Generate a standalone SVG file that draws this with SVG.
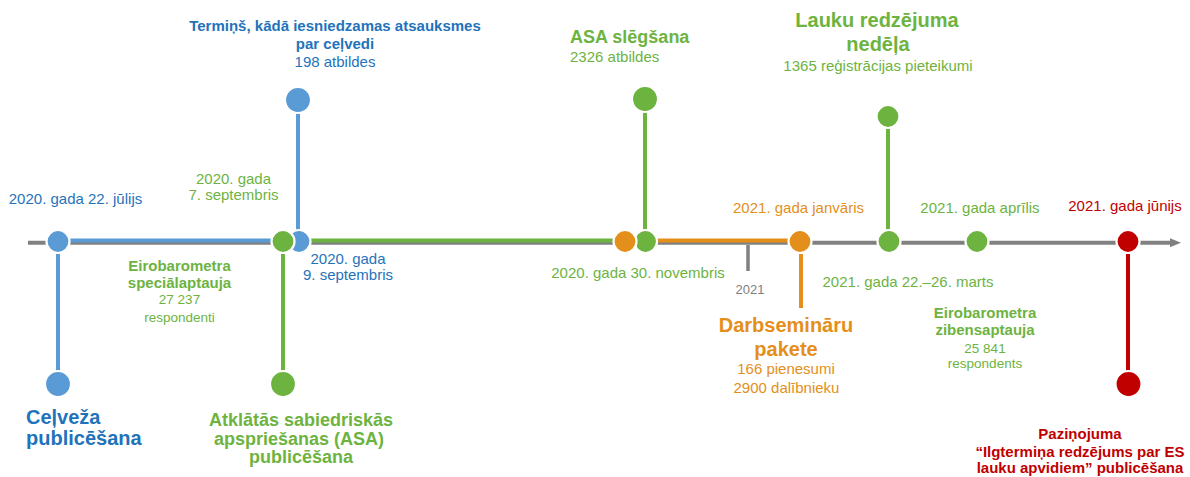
<svg xmlns="http://www.w3.org/2000/svg" width="1190" height="477" viewBox="0 0 1190 477">
<style>
text{font-family:"Liberation Sans",Arial,sans-serif;}
.d{font-size:15px;}
.b15{font-size:15px;font-weight:bold;}
.b18{font-size:18px;font-weight:bold;}
.b20{font-size:20px;font-weight:bold;}
.s{font-size:13.5px;}
.c{text-anchor:middle;}
.tb{fill:#1f73bb;}
.tg{fill:#6db33f;}
.to{fill:#e48f1b;}
.tr{fill:#c00000;}
.tgy{fill:#808080;}
.dot{stroke:#fff;stroke-width:2.2;}
.fb{fill:#5b9bd5;}
.fg{fill:#6db33f;}
.fo{fill:#e48f1b;}
.fr{fill:#c00000;}
.ln{fill:none;stroke-width:4;}
</style>
<defs>
<marker id="arr" markerUnits="userSpaceOnUse" markerWidth="12" markerHeight="10" refX="0" refY="4.5" orient="auto">
<path d="M0,0 L11,4.5 L0,9 z" fill="#808080"/>
</marker>
</defs>
<rect width="1190" height="477" fill="#fff"/>
<g id="connectors">
<line x1="28" y1="242.8" x2="1170" y2="242.8" stroke="#808080" stroke-width="4" marker-end="url(#arr)"/>
<line class="ln" x1="58" y1="240.6" x2="283" y2="240.6" stroke="#5b9bd5"/>
<line class="ln" x1="299" y1="240.6" x2="625" y2="240.6" stroke="#6db33f"/>
<line class="ln" x1="645" y1="240.6" x2="800" y2="240.6" stroke="#e48f1b"/>
<line class="ln" x1="58" y1="241" x2="58" y2="384" stroke="#5b9bd5"/>
<line class="ln" x1="298" y1="100" x2="298" y2="241" stroke="#5b9bd5"/>
<line class="ln" x1="283" y1="241" x2="283" y2="384" stroke="#6db33f"/>
<line class="ln" x1="645" y1="99" x2="645" y2="241" stroke="#6db33f"/>
<line class="ln" x1="801" y1="241" x2="801" y2="308" stroke="#e48f1b"/>
<line class="ln" x1="888" y1="116" x2="888" y2="241" stroke="#6db33f"/>
<line class="ln" x1="1128" y1="241" x2="1128" y2="384" stroke="#c00000"/>
<line x1="748" y1="245" x2="748" y2="271" stroke="#808080" stroke-width="3.5"/>
</g>
<g id="n-2021">
<text class="tgy c" x="750" y="294" font-size="13">2021</text>
</g>
<g id="n-jul22">
<circle class="dot fb" cx="58" cy="241.5" r="11.5"/>
<text class="d tb c" x="75.5" y="204">2020. gada 22. jūlijs</text>
</g>
<g id="n-guide">
<circle class="dot fb" cx="58" cy="384" r="13"/>
<text class="b20 tb" x="26" y="424">Ceļveža</text>
<text class="b20 tb" x="26" y="445">publicēšana</text>
</g>
<g id="n-feedback">
<circle class="dot fb" cx="298" cy="100" r="13"/>
<text class="b15 tb c" x="335" y="31">Termiņš, kādā iesniedzamas atsauksmes</text>
<text class="b15 tb c" x="335" y="49">par ceļvedi</text>
<text class="d tb c" x="335" y="67">198 atbildes</text>
</g>
<g id="n-sep9">
<circle class="dot fb" cx="299" cy="241.5" r="11.5"/>
<text class="d tb c" x="348" y="264">2020. gada</text>
<text class="d tb c" x="348" y="280">9. septembris</text>
</g>
<g id="n-sep7">
<circle class="dot fg" cx="283" cy="241.5" r="11.5"/>
<text class="d tg c" x="233.5" y="183.5">2020. gada</text>
<text class="d tg c" x="233.5" y="200">7. septembris</text>
</g>
<g id="n-asa-pub">
<circle class="dot fg" cx="283" cy="384" r="13"/>
<text class="b18 tg c" x="301" y="426">Atklātās sabiedriskās</text>
<text class="b18 tg c" x="299" y="444.5">apspriešanas (ASA)</text>
<text class="b18 tg c" x="301" y="463">publicēšana</text>
</g>
<g id="n-eurobarometer">
<text class="b15 tg c" x="179.5" y="271">Eirobarometra</text>
<text class="b15 tg c" x="179.5" y="288">speciālaptauja</text>
<text class="s tg c" x="179.5" y="304">27 237</text>
<text class="s tg c" x="179.5" y="321.5">respondenti</text>
</g>
<g id="n-asa-close-dot">
<circle class="dot fg" cx="645.5" cy="241.5" r="11.5"/>
</g>
<g id="n-nov30">
<circle class="dot fo" cx="625" cy="241.5" r="11.5"/>
<text class="d tg c" x="638" y="278">2020. gada 30. novembris</text>
</g>
<g id="n-asa-close">
<circle class="dot fg" cx="645" cy="99" r="13"/>
<text class="b18 tg" x="570" y="43">ASA slēgšana</text>
<text class="d tg" x="570" y="62">2326 atbildes</text>
</g>
<g id="n-jan">
<circle class="dot fo" cx="800" cy="241.5" r="11.5"/>
<text class="d to c" x="798.5" y="213">2021. gada janvāris</text>
</g>
<g id="n-workshops">
<text class="b20 to c" x="786" y="332">Darbsemināru</text>
<text class="b20 to c" x="786" y="355.5">pakete</text>
<text class="d to c" x="786" y="374">166 pienesumi</text>
<text class="d to c" x="786.5" y="392.5">2900 dalībnieku</text>
</g>
<g id="n-mar">
<circle class="dot fg" cx="889" cy="241.5" r="11.5"/>
<text class="d tg c" x="908" y="287">2021. gada 22.–26. marts</text>
</g>
<g id="n-rural-week">
<circle class="dot fg" cx="888" cy="116.5" r="11.5"/>
<text class="b20 tg c" x="877" y="26.5">Lauku redzējuma</text>
<text class="b20 tg c" x="878" y="50.5">nedēļa</text>
<text class="d tg c" x="878" y="71">1365 reģistrācijas pieteikumi</text>
</g>
<g id="n-apr">
<circle class="dot fg" cx="977" cy="241.5" r="11.5"/>
<text class="d tg c" x="980" y="213">2021. gada aprīlis</text>
</g>
<g id="n-flash">
<text class="b15 tg c" x="985" y="317.5">Eirobarometra</text>
<text class="b15 tg c" x="985" y="335">zibensaptauja</text>
<text class="s tg c" x="985" y="352.5">25 841</text>
<text class="s tg c" x="985" y="368">respondents</text>
</g>
<g id="n-jun">
<circle class="dot fr" cx="1128" cy="241.5" r="11.5"/>
<text class="d tr c" x="1125" y="211">2021. gada jūnijs</text>
</g>
<g id="n-communication">
<circle class="dot fr" cx="1128.5" cy="384" r="13"/>
<text class="b15 tr c" x="1080" y="438.5">Paziņojuma</text>
<text class="b15 tr c" x="1080" y="456.5">“Ilgtermiņa redzējums par ES</text>
<text class="b15 tr c" x="1080" y="473">lauku apvidiem” publicēšana</text>
</g>
</svg>
